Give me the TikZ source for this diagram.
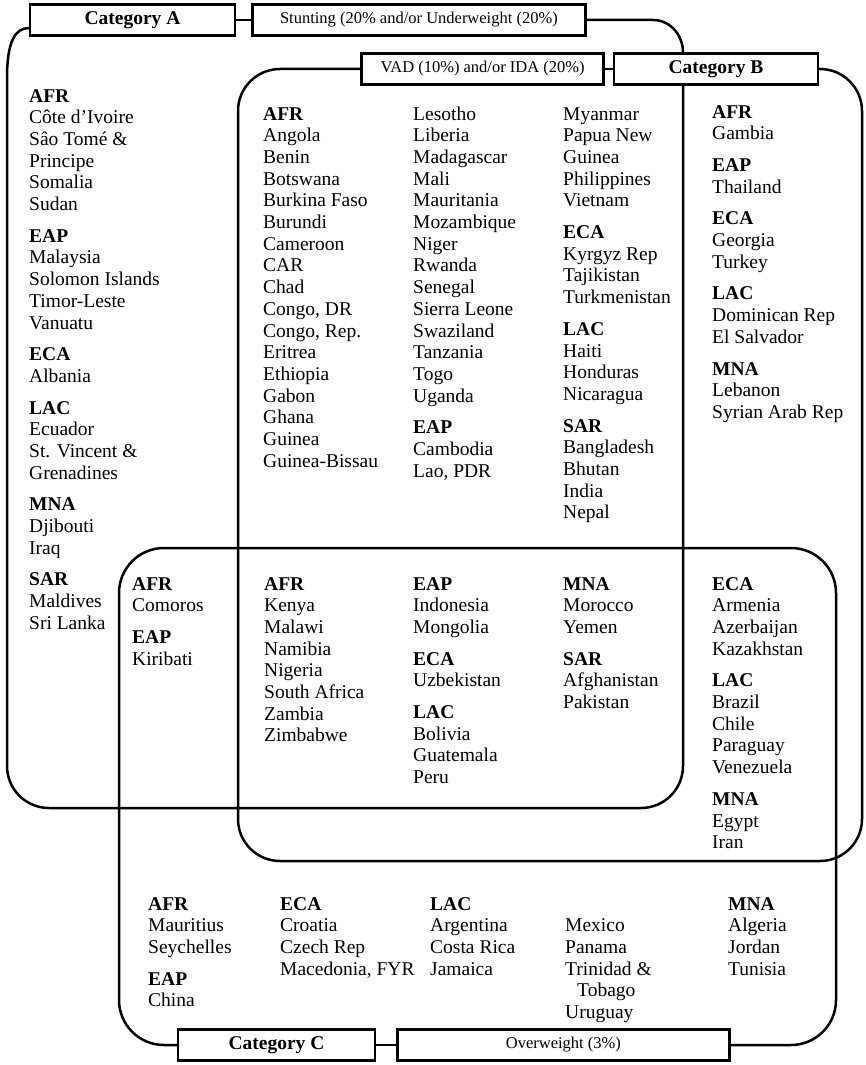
\documentclass[tikz,border=0pt]{standalone}
\usepackage{fontspec}
\setmainfont{Liberation Serif}
\usetikzlibrary{positioning}

\newcommand{\listfont}{\fontsize{19.5}{21.7}\selectfont}
\newcommand{\boxfont}{\fontsize{16.5}{18}\selectfont}
\newcommand{\rgn}[1]{\textbf{#1}}

\begin{document}
\begin{tikzpicture}[
    x=1pt, y=-1pt,
    box/.style={
      draw,
      line width=2.4pt,
      minimum height=31pt,
      inner sep=2pt,
      font=\boxfont
    },
    catbox/.style={box, font=\listfont\bfseries},
    region/.style={line width=2.5pt},
    cell/.style={anchor=base west, inner sep=0pt, font=\listfont}
  ]
    \useasboundingbox (0,0) rectangle (865,1065);

    \node[catbox, minimum width=205pt] (catA) at (132.5,20) {Category A};
    \node[box, minimum width=333pt, right=15pt of catA] (stunt) {Stunting (20\% and/or Underweight (20\%)};
    \node[catbox, minimum width=204pt] (catB) at (716,69) {Category B};
    \node[box, minimum width=242pt, left=8pt of catB] (vad) {VAD (10\%) and/or IDA (20\%)};
    \node[catbox, minimum width=197pt] (catC) at (276.5,1045) {Category C};
    \node[box, minimum width=332pt, right=20pt of catC] (over) {Overweight (3\%)};

    \coordinate (aRight) at (683,0);

    \draw[region] (catA) -- (stunt);
    \draw[region] (vad) -- (catB);
    \draw[region] (catC) -- (over);

    \draw[region] ([yshift=-8pt]catA.west) .. controls (15,28) and (7,42) .. (7,78)
      [rounded corners=42pt] -- (7,808) -- (683,808) -- (catB.south -| aRight);
    \draw[region] (stunt.east) -- (653,20) .. controls (671,20) and (683,36) .. (catB.north -| aRight);
    \draw[region] (vad.west) [rounded corners=42pt] -- (238,69) -- (238,861) -- (862,861) -- (862,69) -- (catB.east);
    \draw[region] (catC.west) [rounded corners=45pt] -- (119,1045) -- (119,548) -- (836,548) -- (836,1045) -- (over.east);

    \node[cell] (aOnly) at (29,102) {\begin{tabular}[t]{@{}l@{}}
      \rgn{AFR}\\ Côte d’Ivoire\\ Sâo Tomé \&\\ Principe\\ Somalia\\ Sudan\\[10pt]
      \rgn{EAP}\\ Malaysia\\ Solomon Islands\\ Timor-Leste\\ Vanuatu\\[10pt]
      \rgn{ECA}\\ Albania\\[10pt]
      \rgn{LAC}\\ Ecuador\\ St. Vincent \&\\ Grenadines\\[10pt]
      \rgn{MNA}\\ Djibouti\\ Iraq\\[10pt]
      \rgn{SAR}\\ Maldives\\ Sri Lanka
    \end{tabular}};

    \node[cell] (abAfr) at (263,120) {\begin{tabular}[t]{@{}l@{}}
      \rgn{AFR}\\ Angola\\ Benin\\ Botswana\\ Burkina Faso\\ Burundi\\ Cameroon\\ CAR\\ Chad\\
      Congo, DR\\ Congo, Rep.\\ Eritrea\\ Ethiopia\\ Gabon\\ Ghana\\ Guinea\\ Guinea-Bissau
    \end{tabular}};
    \node[cell] (abMid) at (413,120) {\begin{tabular}[t]{@{}l@{}}
      Lesotho\\ Liberia\\ Madagascar\\ Mali\\ Mauritania\\ Mozambique\\ Niger\\ Rwanda\\
      Senegal\\ Sierra Leone\\ Swaziland\\ Tanzania\\ Togo\\ Uganda\\[10pt]
      \rgn{EAP}\\ Cambodia\\ Lao, PDR
    \end{tabular}};
    \node[cell] (abRight) at (563,120) {\begin{tabular}[t]{@{}l@{}}
      Myanmar\\ Papua New\\ Guinea\\ Philippines\\ Vietnam\\[10pt]
      \rgn{ECA}\\ Kyrgyz Rep\\ Tajikistan\\ Turkmenistan\\[10pt]
      \rgn{LAC}\\ Haiti\\ Honduras\\ Nicaragua\\[10pt]
      \rgn{SAR}\\ Bangladesh\\ Bhutan\\ India\\ Nepal
    \end{tabular}};
    \node[cell] (bOnly) at (712,118) {\begin{tabular}[t]{@{}l@{}}
      \rgn{AFR}\\ Gambia\\[10pt]
      \rgn{EAP}\\ Thailand\\[10pt]
      \rgn{ECA}\\ Georgia\\ Turkey\\[10pt]
      \rgn{LAC}\\ Dominican Rep\\ El Salvador\\[10pt]
      \rgn{MNA}\\ Lebanon\\ Syrian Arab Rep
    \end{tabular}};

    \node[cell] (acOnly) at (132,590) {\begin{tabular}[t]{@{}l@{}}
      \rgn{AFR}\\ Comoros\\[10pt]
      \rgn{EAP}\\ Kiribati
    \end{tabular}};
    \node[cell] (abcAfr) at (264,590) {\begin{tabular}[t]{@{}l@{}}
      \rgn{AFR}\\ Kenya\\ Malawi\\ Namibia\\ Nigeria\\ South Africa\\ Zambia\\ Zimbabwe
    \end{tabular}};
    \node[cell] (abcMid) at (413,590) {\begin{tabular}[t]{@{}l@{}}
      \rgn{EAP}\\ Indonesia\\ Mongolia\\[10pt]
      \rgn{ECA}\\ Uzbekistan\\[10pt]
      \rgn{LAC}\\ Bolivia\\ Guatemala\\ Peru
    \end{tabular}};
    \node[cell] (abcRight) at (563,590) {\begin{tabular}[t]{@{}l@{}}
      \rgn{MNA}\\ Morocco\\ Yemen\\[10pt]
      \rgn{SAR}\\ Afghanistan\\ Pakistan
    \end{tabular}};
    \node[cell] (bcOnly) at (712,590) {\begin{tabular}[t]{@{}l@{}}
      \rgn{ECA}\\ Armenia\\ Azerbaijan\\ Kazakhstan\\[10pt]
      \rgn{LAC}\\ Brazil\\ Chile\\ Paraguay\\ Venezuela\\[10pt]
      \rgn{MNA}\\ Egypt\\ Iran
    \end{tabular}};

    \node[cell] (cAfr) at (148,910) {\begin{tabular}[t]{@{}l@{}}
      \rgn{AFR}\\ Mauritius\\ Seychelles\\[10pt]
      \rgn{EAP}\\ China
    \end{tabular}};
    \node[cell] (cEca) at (280,910) {\begin{tabular}[t]{@{}l@{}}
      \rgn{ECA}\\ Croatia\\ Czech Rep\\ Macedonia, FYR
    \end{tabular}};
    \node[cell] (cLac) at (430,910) {\begin{tabular}[t]{@{}l@{}}
      \rgn{LAC}\\ Argentina\\ Costa Rica\\ Jamaica
    \end{tabular}};
    \node[cell] (cLacMore) at (565,931.7) {\begin{tabular}[t]{@{}l@{}}
      Mexico\\ Panama\\ Trinidad \&\\ \hspace{12pt}Tobago\\ Uruguay
    \end{tabular}};
    \node[cell] (cMna) at (728,910) {\begin{tabular}[t]{@{}l@{}}
      \rgn{MNA}\\ Algeria\\ Jordan\\ Tunisia
    \end{tabular}};
\end{tikzpicture}
\end{document}
